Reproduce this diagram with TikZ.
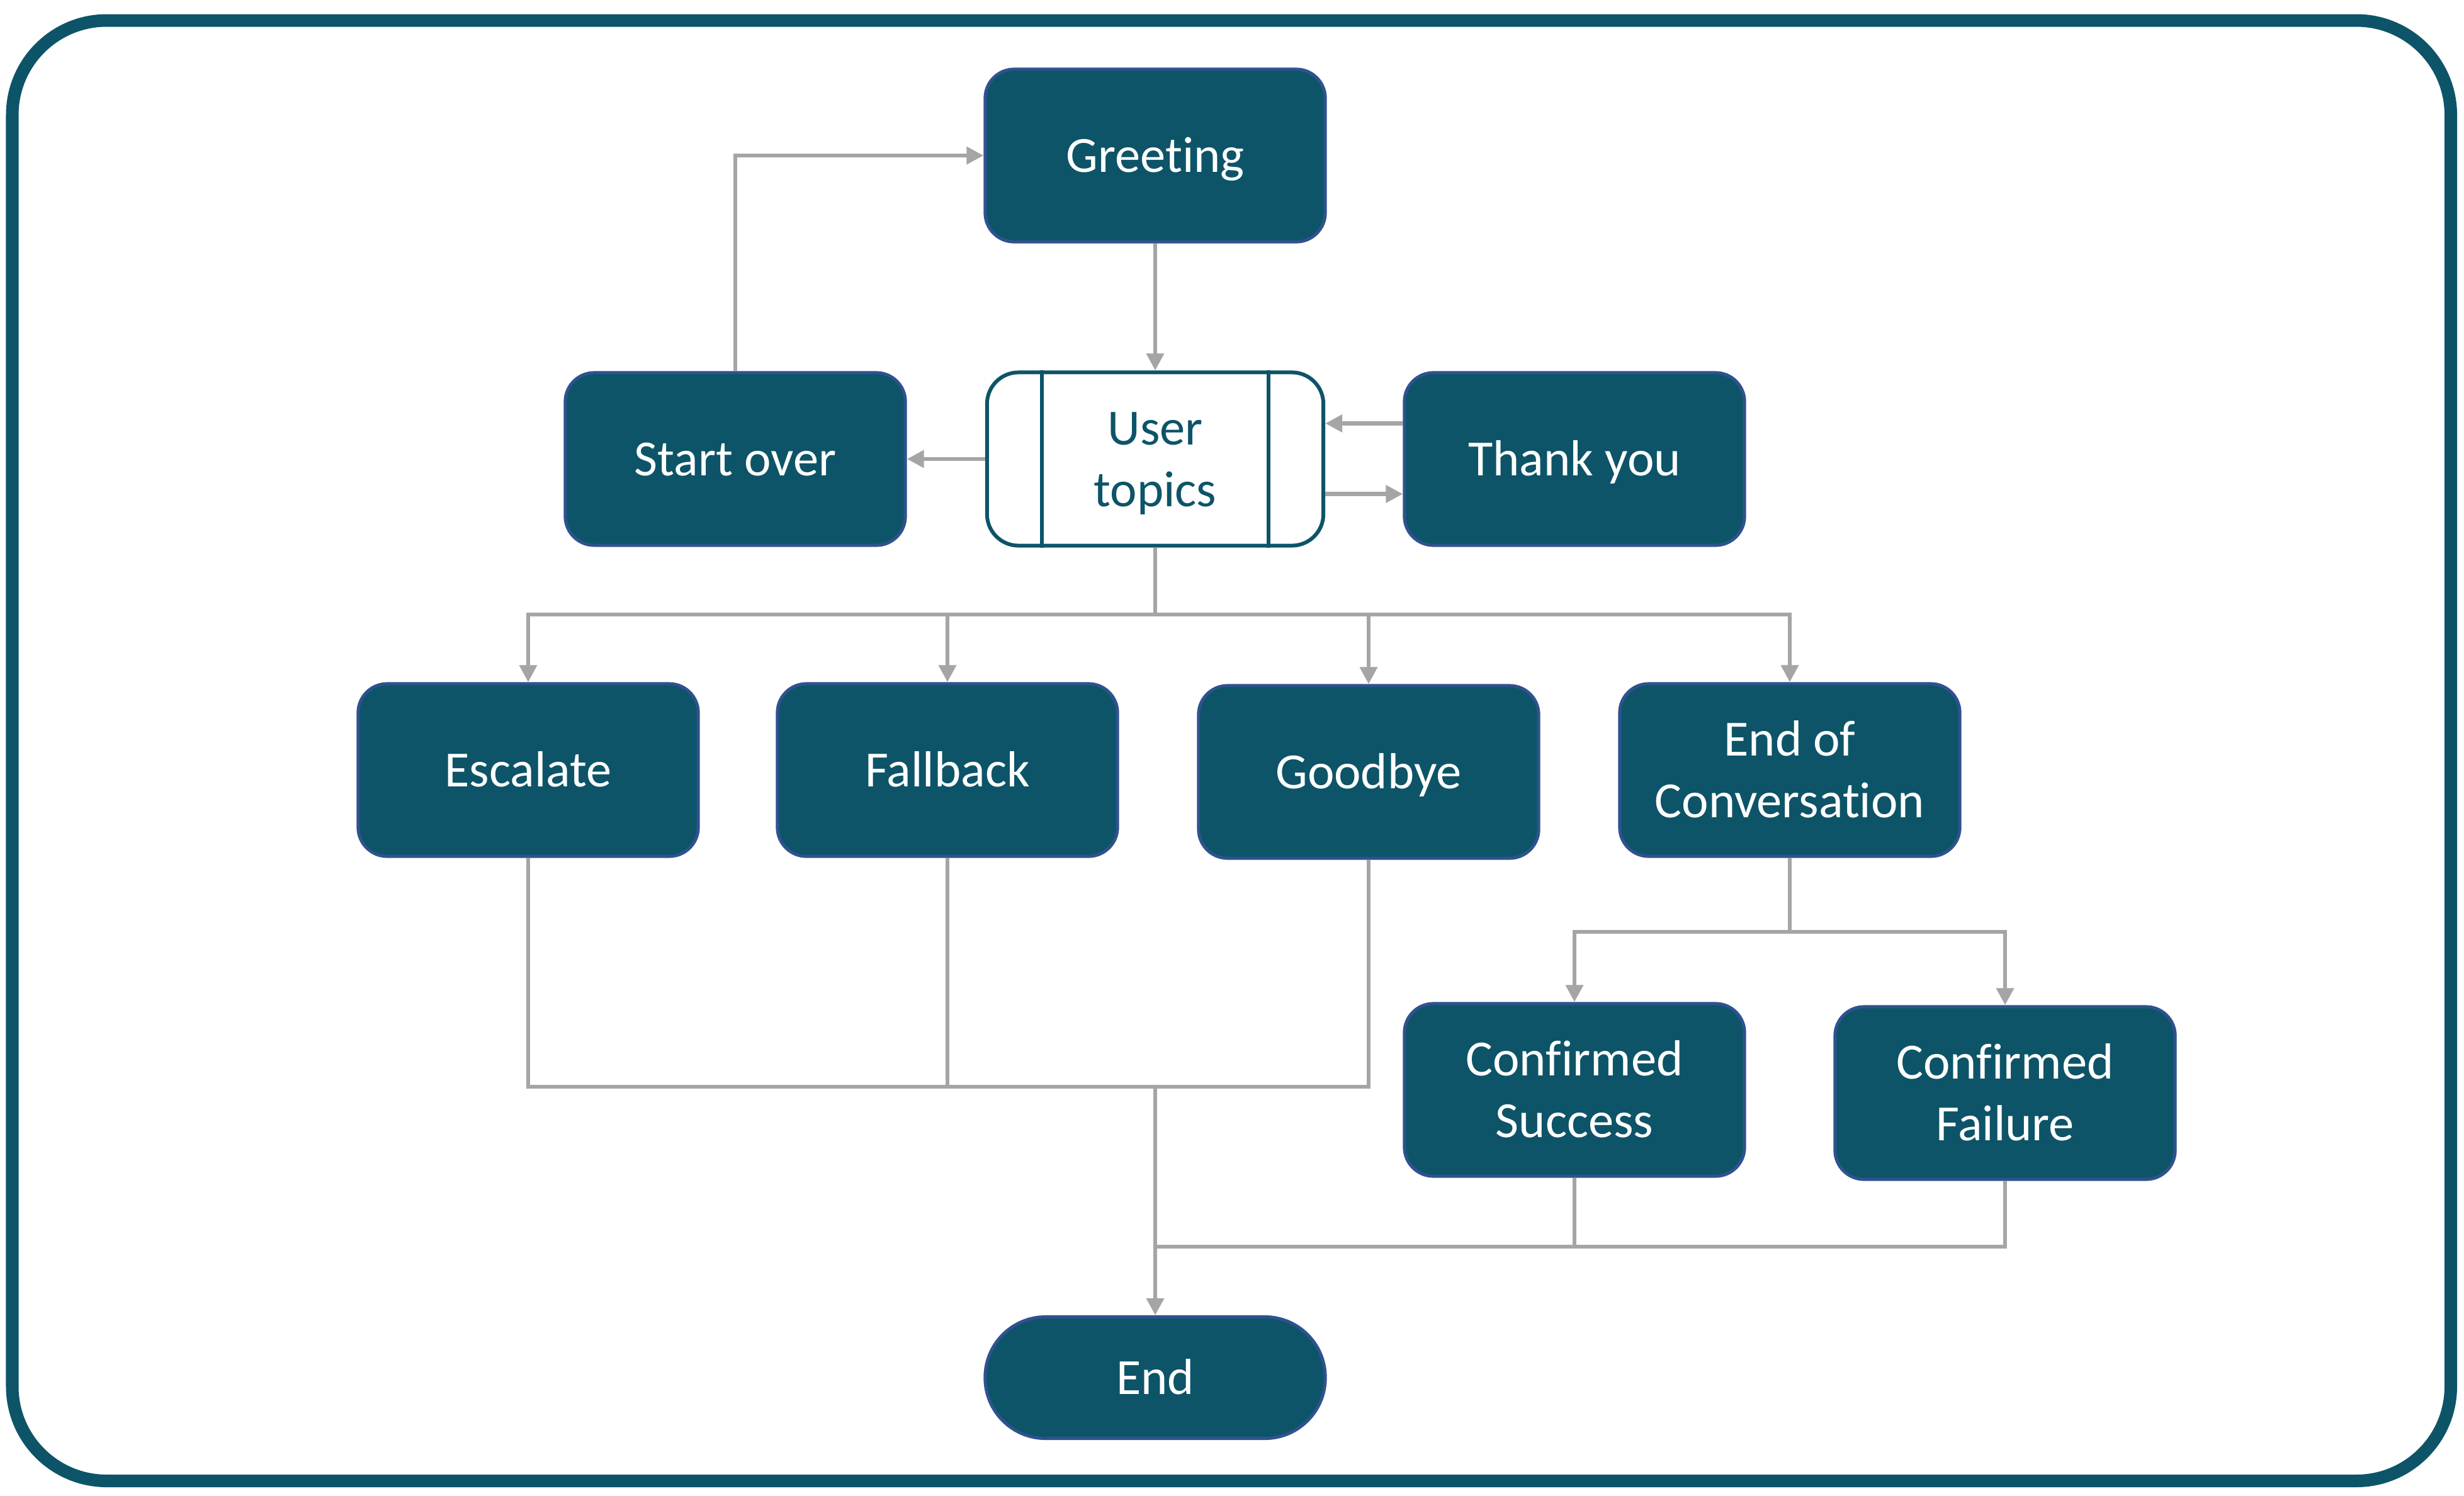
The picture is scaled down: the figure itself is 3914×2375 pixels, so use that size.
\documentclass[tikz,border=0pt]{standalone}
\usepackage{fontspec}
\setmainfont{Carlito}[Ligatures=NoCommon]
\usetikzlibrary{arrows.meta}
\definecolor{teal1}{HTML}{0D5468}
\definecolor{nodeborder}{HTML}{2F528F}
\definecolor{conngray}{HTML}{A5A5A5}
\newcommand{\tstrut}{\rule[-0.2cm]{0pt}{0.935cm}}
\tikzset{
  darkbox/.style={draw=nodeborder, line width=0.05cm, fill=teal1, text=white,
    rounded corners=0.46cm, minimum width=5.40cm, minimum height=2.74cm,
    inner sep=0pt, align=center, font=\fontsize{22.9}{27.9}\selectfont,
    execute at end node=\tstrut},
  topicbox/.style={darkbox, draw=teal1, line width=0.06cm, fill=white, text=teal1,
    rounded corners=0.5cm, minimum width=5.34cm, minimum height=2.75cm},
  endbox/.style={darkbox, minimum height=1.93cm, rounded corners=0.96cm},
  conn/.style={draw=conngray, line width=0.065cm},
  arr/.style={conn, -{Triangle[length=0.27cm,width=0.27cm]}},
}
\begin{document}
\begin{tikzpicture}[x=0.01cm,y=-0.01cm]
\useasboundingbox (0,0) rectangle (3914,2375);
% outer frame
\draw[teal1, line width=0.2cm, rounded corners=1.5cm] (19.5,32.5) rectangle (3893,2352);

% nodes
\node[darkbox] (gr) at (1835,247) {Greeting};
\node[topicbox] (ut) at (1835,729) {\tstrut User\\topics};
\node[darkbox] (so) at (1168,729) {Start over};
\node[darkbox] (ty) at (2501,729) {Thank you};
\node[darkbox] (esc) at (839,1223) {Escalate};
\node[darkbox] (fb) at (1505,1223) {Fallback};
\node[darkbox] (gb) at (2174,1226) {Goodbye};
\node[darkbox] (eoc) at (2843,1223) {\tstrut End of\\Conversation};
\node[darkbox] (cs) at (2501,1731) {\tstrut Confirmed\\Success};
\node[darkbox] (cf) at (3185,1736) {\tstrut Confirmed\\Failure};
\node[endbox] (end) at (1835,2188) {End};

% inner lines of User topics
\draw[teal1, line width=0.06cm] ([xshift=0.9cm]ut.north west) -- ([xshift=0.9cm]ut.south west);
\draw[teal1, line width=0.06cm] ([xshift=-0.9cm]ut.north east) -- ([xshift=-0.9cm]ut.south east);

% helper coordinates
\coordinate (split1) at (1835,976);
\coordinate (merge1) at (1835,1726);
\coordinate (split2) at (2843,1480);
\coordinate (merge2) at (1835,1980);

% connectors
\draw[arr] (so.north) |- (gr.west);
\draw[arr] (gr.south) -- (ut.north);
\draw[arr] (ut.west) -- (so.east);
\draw[arr] ([yshift=0.565cm]ty.west) -- ([yshift=0.565cm]ut.east);
\draw[arr] ([yshift=-0.555cm]ut.east) -- ([yshift=-0.555cm]ty.west);

\draw[conn] (ut.south) -- (split1);
\draw[arr] (split1) -| (esc.north);
\draw[arr] (split1) -| (fb.north);
\draw[arr] (split1) -| (gb.north);
\draw[arr] (split1) -| (eoc.north);

\draw[conn] (esc.south) |- (merge1);
\draw[conn] (fb.south) |- (merge1);
\draw[conn] (gb.south) |- (merge1);
\draw[arr] (merge1) -- (end.north);

\draw[conn] (eoc.south) -- (split2);
\draw[arr] (split2) -| (cs.north);
\draw[arr] (split2) -| (cf.north);

\draw[conn] (cs.south) |- (merge2);
\draw[conn] (cf.south) |- (merge2);
\end{tikzpicture}
\end{document}
